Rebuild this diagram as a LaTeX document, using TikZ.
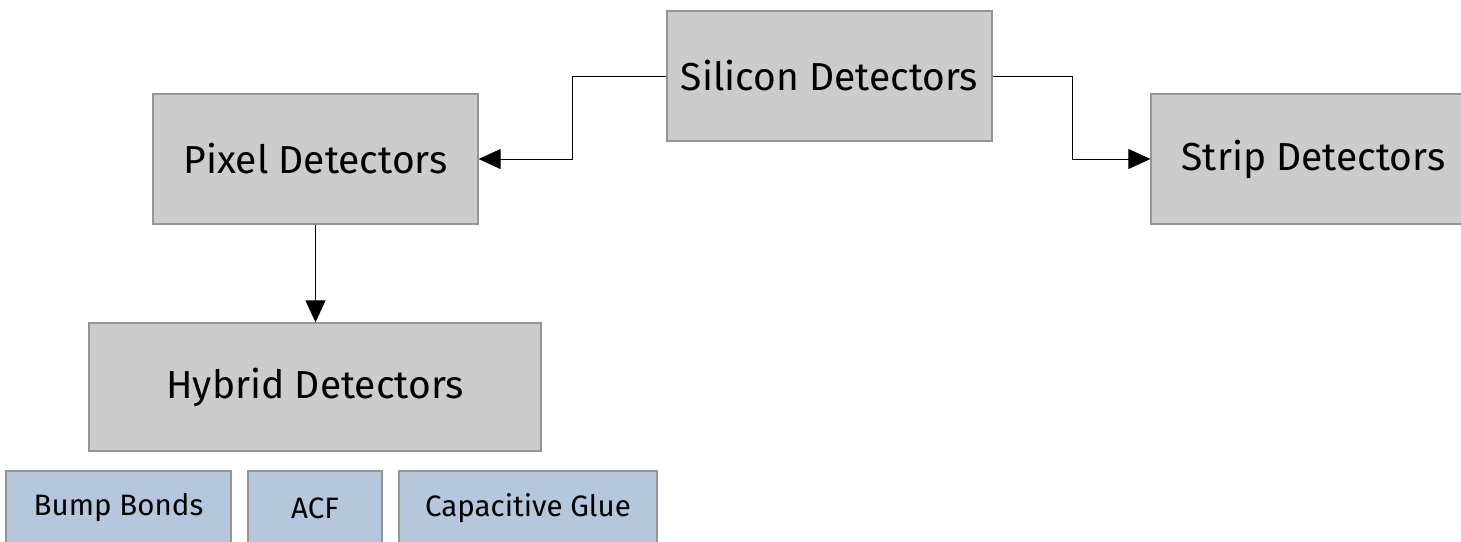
\documentclass[tikz,border=0pt]{standalone}
\usepackage{fontspec}
\setmainfont{Fira Sans}
\usetikzlibrary{arrows.meta}
\definecolor{boxgray}{HTML}{CCCCCC}
\definecolor{edgegray}{HTML}{959595}
\definecolor{boxblue}{HTML}{B4C7DC}
\tikzset{
  block/.style={draw=edgegray, line width=1.3pt, fill=boxgray, inner sep=0pt,
    font=\fontsize{39}{44}\selectfont},
  subblock/.style={draw=edgegray, line width=1.3pt, fill=boxblue, inner sep=0pt,
    font=\fontsize{29.5}{34}\selectfont},
  link/.style={draw=black, line width=1pt, -{Triangle[length=22pt,width=20pt]}}
}
\begin{document}
\begin{tikzpicture}[x=1pt,y=-1pt]
  \useasboundingbox[fill=white] (0,0) rectangle (1461,541);
  \clip (0,0) rectangle (1461,541);

  % main detector categories
  \node[block, minimum width=325pt, minimum height=130pt] (si) at (829.5,76) {Silicon Detectors};
  \node[block, minimum width=325pt, minimum height=130pt] (px) at (315.5,159) {Pixel Detectors};
  \node[block, minimum width=325pt, minimum height=130pt] (st) at (1313.5,159) {Strip Detectors};
  \node[block, minimum width=452pt, minimum height=128pt] (hy) at (315,387) {Hybrid Detectors};

  % interconnection technologies
  \node[subblock, minimum width=225pt, minimum height=74pt] (bb) at (118.5,508) {Bump Bonds};
  \node[subblock, minimum width=134pt, minimum height=74pt] (acf) at (315,508) {ACF};
  \node[subblock, minimum width=258pt, minimum height=74pt] (cg) at (528,508) {Capacitive Glue};

  % connectors
  \draw[link] (si.west) -- ++(-94,0) |- (px.east);
  \draw[link] (si.east) -- ++(80,0) |- (st.west);
  \draw[link] (px.south) -- (px.south |- hy.north);
\end{tikzpicture}
\end{document}
